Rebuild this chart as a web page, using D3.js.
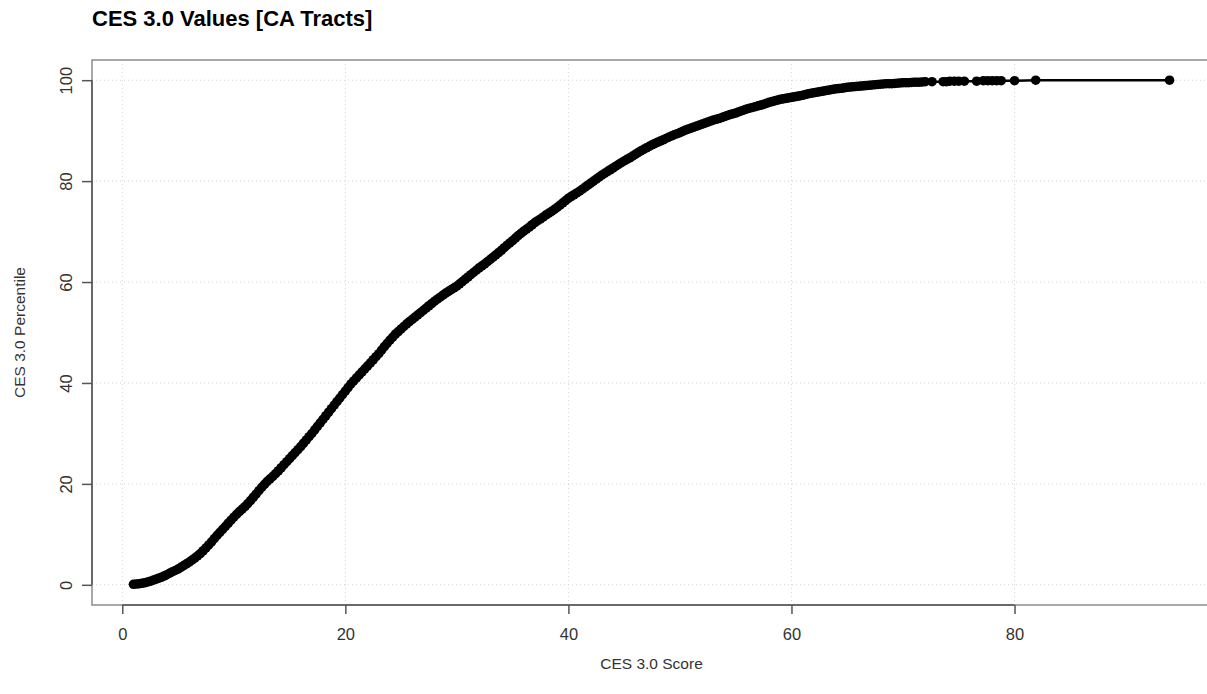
<!DOCTYPE html>
<html>
<head>
<meta charset="utf-8">
<script src="https://cdn.jsdelivr.net/npm/d3@7"></script>
<style>
  body { margin: 0; background: #fff; }
  text { font-family: "Liberation Sans", Arial, Helvetica, sans-serif; }
</style>
</head>
<body>
<div class="chart"></div>
<script>
// CES 3.0 score vs percentile
const scores = [
  1.0, 1.25, 1.5, 1.75, 2.0, 2.25, 2.5, 2.75, 3.0, 3.25,
  3.5, 3.75, 4.0, 4.25, 4.5, 4.75, 5.0, 5.25, 5.5, 5.75,
  6.0, 6.25, 6.5, 6.75, 7.0, 7.25, 7.5, 7.75, 8.0, 8.25,
  8.5, 8.75, 9.0, 9.25, 9.5, 9.75, 10.0, 10.25, 10.5, 10.75,
  11.0, 11.25, 11.5, 11.75, 12.0, 12.25, 12.5, 12.75, 13.0, 13.25,
  13.5, 13.75, 14.0, 14.25, 14.5, 14.75, 15.0, 15.25, 15.5, 15.75,
  16.0, 16.25, 16.5, 16.75, 17.0, 17.25, 17.5, 17.75, 18.0, 18.25,
  18.5, 18.75, 19.0, 19.25, 19.5, 19.75, 20.0, 20.25, 20.5, 20.75,
  21.0, 21.25, 21.5, 21.75, 22.0, 22.25, 22.5, 22.75, 23.0, 23.25,
  23.5, 23.75, 24.0, 24.25, 24.5, 24.75, 25.0, 25.25, 25.5, 25.75,
  26.0, 26.25, 26.5, 26.75, 27.0, 27.25, 27.5, 27.75, 28.0, 28.25,
  28.5, 28.75, 29.0, 29.25, 29.5, 29.75, 30.0,
  30.25, 30.5, 30.75, 31.0, 31.25, 31.5, 31.75, 32.0,
  32.25, 32.5, 32.75, 33.0, 33.25, 33.5, 33.75, 34.0,
  34.25, 34.5, 34.75, 35.0, 35.25, 35.5, 35.75, 36.0,
  36.25, 36.5, 36.75, 37.0, 37.25, 37.5, 37.75, 38.0,
  38.25, 38.5, 38.75, 39.0, 39.25, 39.5, 39.75, 40.0,
  40.25, 40.5, 40.75, 41.0, 41.25, 41.5, 41.75, 42.0,
  42.25, 42.5, 42.75, 43.0, 43.25, 43.5, 43.75, 44.0,
  44.25, 44.5, 44.75, 45.0, 45.25, 45.5, 45.75, 46.0,
  46.25, 46.5, 46.75, 47.0, 47.25, 47.5, 47.75, 48.0,
  48.25, 48.5, 48.75, 49.0, 49.25, 49.5, 49.75, 50.0,
  50.25, 50.5, 50.75, 51.0, 51.25, 51.5, 51.75, 52.0,
  52.25, 52.5, 52.75, 53.0, 53.25, 53.5, 53.75, 54.0,
  54.25, 54.5, 54.75, 55.0, 55.25, 55.5, 55.75, 56.0,
  56.25, 56.5, 56.75, 57.0, 57.25, 57.5, 57.75, 58.0,
  58.25, 58.5, 58.75, 59.0, 59.25, 59.5, 59.75, 60.0,
  60.25, 60.5, 60.75, 61.0, 61.25, 61.5, 61.75, 62.0,
  62.25, 62.5, 62.75, 63.0, 63.25, 63.5, 63.75, 64.0,
  64.25, 64.5, 64.75, 65.0, 65.25, 65.5, 65.75, 66.0,
  66.25, 66.5, 66.75, 67.0, 67.25, 67.5, 67.75, 68.0,
  68.25, 68.5, 68.75, 69.0, 69.25, 69.5, 69.75, 70.0,
  70.25, 70.5, 70.75, 71.0, 71.25, 71.5, 71.75, 72.0,
  72.6, 73.6, 73.9, 74.2, 74.6, 75.0, 75.5, 76.6, 77.2, 77.6,
  78.0, 78.4, 78.8, 80.0, 81.9, 93.9
];
const percentiles = [
  0.1, 0.15, 0.2, 0.3, 0.4, 0.55, 0.7, 0.9, 1.1, 1.3,
  1.5, 1.75, 2.0, 2.3, 2.6, 2.85, 3.1, 3.45, 3.8, 4.15,
  4.5, 4.9, 5.3, 5.75, 6.2, 6.75, 7.3, 7.9, 8.5, 9.15,
  9.8, 10.4, 11.0, 11.6, 12.2, 12.8, 13.4, 13.95, 14.5, 15.0,
  15.5, 16.1, 16.7, 17.35, 18.0, 18.65, 19.3, 19.9, 20.5, 21.0,
  21.5, 22.05, 22.6, 23.2, 23.8, 24.4, 25.0, 25.6, 26.2, 26.8,
  27.4, 28.05, 28.7, 29.35, 30.0, 30.7, 31.4, 32.1, 32.8, 33.5,
  34.2, 34.9, 35.6, 36.3, 37.0, 37.7, 38.4, 39.1, 39.8, 40.4,
  41.0, 41.6, 42.2, 42.8, 43.4, 44.0, 44.6, 45.2, 45.8, 46.5,
  47.2, 47.85, 48.5, 49.1, 49.7, 50.2, 50.7, 51.2, 51.7, 52.15,
  52.6, 53.05, 53.5, 53.95, 54.4, 54.85, 55.3, 55.75, 56.2, 56.6,
  57.0, 57.4, 57.8, 58.15, 58.5, 58.85, 59.2,
  59.65, 60.1, 60.55, 61.0, 61.45, 61.9, 62.35, 62.8,
  63.2, 63.6, 64.05, 64.5, 64.95, 65.4, 65.85, 66.3,
  66.8, 67.3, 67.75, 68.2, 68.7, 69.2, 69.65, 70.1,
  70.5, 70.9, 71.35, 71.8, 72.15, 72.5, 72.9, 73.3,
  73.65, 74.0, 74.4, 74.8, 75.25, 75.7, 76.15, 76.6,
  76.95, 77.3, 77.65, 78.0, 78.4, 78.8, 79.2, 79.6,
  80.0, 80.4, 80.8, 81.2, 81.55, 81.9, 82.25, 82.6,
  82.95, 83.3, 83.65, 84.0, 84.3, 84.6, 84.95, 85.3,
  85.65, 86.0, 86.3, 86.6, 86.9, 87.2, 87.45, 87.7,
  87.95, 88.2, 88.45, 88.7, 88.95, 89.2, 89.4, 89.6,
  89.85, 90.1, 90.3, 90.5, 90.7, 90.9, 91.1, 91.3,
  91.5, 91.7, 91.9, 92.1, 92.25, 92.4, 92.6, 92.8,
  93.0, 93.2, 93.35, 93.5, 93.7, 93.9, 94.1, 94.3,
  94.45, 94.6, 94.75, 94.9, 95.05, 95.2, 95.4, 95.6,
  95.75, 95.9, 96.05, 96.2, 96.3, 96.4, 96.5, 96.6,
  96.7, 96.8, 96.9, 97.0, 97.15, 97.3, 97.4, 97.5,
  97.6, 97.7, 97.8, 97.9, 98.0, 98.1, 98.2, 98.3,
  98.35, 98.4, 98.5, 98.6, 98.65, 98.7, 98.75, 98.8,
  98.85, 98.9, 98.95, 99.0, 99.05, 99.1, 99.15, 99.2,
  99.25, 99.3, 99.3, 99.3, 99.35, 99.4, 99.45, 99.5,
  99.5, 99.5, 99.55, 99.6, 99.6, 99.6, 99.65, 99.7,
  99.7, 99.7, 99.7, 99.8, 99.8, 99.8, 99.8, 99.8, 99.9, 99.9,
  99.9, 99.9, 99.9, 99.9, 100.0, 100.0
];
const xTicks = [0, 20, 40, 60, 80];
const yTicks = [0, 20, 40, 60, 80, 100];

const titleText = "CES 3.0 Values [CA Tracts]";
const xLabel = "CES 3.0 Score";
const yLabel = "CES 3.0 Percentile";

const createChart = () => {
    const width = 1207, height = 694;
    const margin = {left: 92, top: 60, right: -4, bottom: 89};

    const points = scores.map((s, i) => ({x: s, y: percentiles[i]}));

    // R style 4% padding on each side of the data range
    const xExt = d3.extent(scores), yExt = [0, 100];
    const xPad = (xExt[1] - xExt[0]) * 0.04, yPad = (yExt[1] - yExt[0]) * 0.04;

    const x = d3.scaleLinear()
        .domain([xExt[0] - xPad, xExt[1] + xPad])
        .range([margin.left, width - margin.right]);
    const y = d3.scaleLinear()
        .domain([yExt[0] - yPad, yExt[1] + yPad])
        .range([height - margin.bottom, margin.top]);

    const svg = d3.select(".chart").append("svg")
        .attr("width", width)
        .attr("height", height);

    // dotted grid
    const grid = svg.append("g").attr("class", "grid")
        .attr("stroke", "#d4d4d4")
        .attr("stroke-dasharray", "1,3");
    grid.selectAll(".gx").data(xTicks).enter().append("line")
        .attr("x1", d => x(d)).attr("x2", d => x(d))
        .attr("y1", y.range()[0]).attr("y2", y.range()[1]);
    grid.selectAll(".gy").data(yTicks).enter().append("line")
        .attr("y1", d => y(d)).attr("y2", d => y(d))
        .attr("x1", x.range()[0]).attr("x2", x.range()[1]);

    // plot box
    svg.append("rect")
        .attr("x", x.range()[0])
        .attr("y", y.range()[1])
        .attr("width", x.range()[1] - x.range()[0])
        .attr("height", y.range()[0] - y.range()[1])
        .attr("fill", "none")
        .attr("stroke", "#8c8c8c")
        .attr("stroke-width", 1.5);

    // axes
    const xAxis = svg.append("g")
        .attr("transform", `translate(0, ${y.range()[0]})`)
        .call(d3.axisBottom(x).tickValues(xTicks).tickSize(9).tickSizeOuter(0).tickPadding(14));
    const yAxis = svg.append("g")
        .attr("transform", `translate(${x.range()[0]}, 0)`)
        .call(d3.axisLeft(y).tickValues(yTicks).tickSize(10).tickSizeOuter(0));

    // R draws the axis line only from first to last tick
    xAxis.select(".domain").attr("d", `M${x(xTicks[0])},0H${x(xTicks[xTicks.length - 1])}`);
    yAxis.select(".domain").attr("d", `M0,${y(yTicks[0])}V${y(yTicks[yTicks.length - 1])}`);

    [xAxis, yAxis].forEach(a => {
        a.select(".domain").attr("stroke", "#555").attr("stroke-width", 1.5);
        a.selectAll(".tick line").attr("stroke", "#555").attr("stroke-width", 1.5);
        a.selectAll(".tick text")
            .attr("fill", "#333")
            .attr("font-size", 16.5)
            .attr("font-family", "Liberation Sans, Arial, sans-serif");
    });

    yAxis.selectAll(".tick text")
        .attr("x", null).attr("dy", null)
        .attr("text-anchor", "middle")
        .attr("transform", "translate(-20, 0) rotate(-90)");

    // line + points
    const line = d3.line().x(d => x(d.x)).y(d => y(d.y));
    svg.append("path")
        .datum(points)
        .attr("d", line)
        .attr("fill", "none")
        .attr("stroke", "#000")
        .attr("stroke-width", 2.5);

    svg.selectAll("circle")
        .data(points).enter().append("circle")
        .attr("cx", d => x(d.x))
        .attr("cy", d => y(d.y))
        .attr("r", 4.8)
        .attr("fill", "#000");

    // titles
    svg.append("text")
        .text(titleText)
        .attr("x", margin.left)
        .attr("y", 26)
        .attr("font-size", 22)
        .attr("font-weight", "bold")
        .attr("fill", "#000");

    svg.append("text")
        .text(xLabel)
        .attr("x", (x.range()[0] + x.range()[1]) / 2)
        .attr("y", 669)
        .attr("text-anchor", "middle")
        .attr("font-size", 15.5)
        .attr("fill", "#333");

    svg.append("text")
        .text(yLabel)
        .attr("transform", `translate(25, ${(y.range()[0] + y.range()[1]) / 2}) rotate(-90)`)
        .attr("text-anchor", "middle")
        .attr("font-size", 15.5)
        .attr("fill", "#333");
};

createChart();
</script>
</body>
</html>
